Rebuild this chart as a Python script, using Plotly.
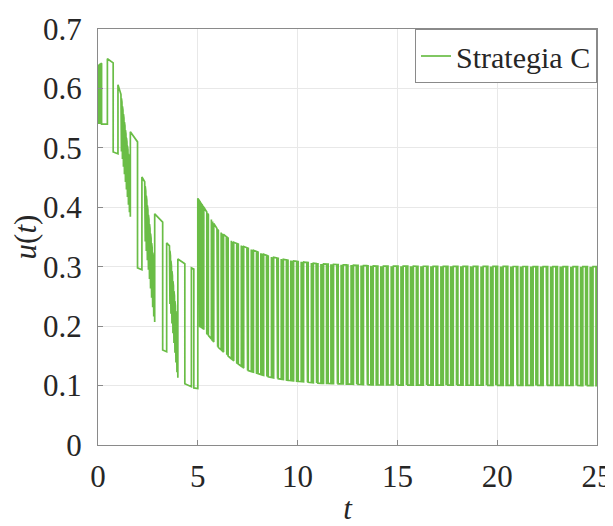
import numpy as np
import plotly.graph_objects as go

# ---- data ----
# envelope levels (upper = value while signal is "high", lower = value while "low")
env_t = [0.00, 0.47, 0.76, 1.00, 1.15, 1.60, 1.62, 1.98, 2.20, 2.34, 2.82, 2.84, 3.24, 3.44,
         3.58, 3.98, 4.00, 4.35, 4.68, 4.80, 4.9995, 5.00, 5.30, 6.00, 6.75, 7.45, 8.60,
         9.50, 11.0, 14.0, 25.0]
env_hi = [0.638, 0.650, 0.643, 0.606, 0.590, 0.470, 0.527, 0.510, 0.451, 0.443, 0.300, 0.389,
          0.375, 0.340, 0.335, 0.200, 0.313, 0.305, 0.298, 0.296, 0.295, 0.415, 0.400, 0.362,
          0.342, 0.332, 0.317, 0.311, 0.305, 0.301, 0.300]
env_lo = [0.540, 0.540, 0.493, 0.490, 0.500, 0.385, 0.384, 0.298, 0.295, 0.350, 0.208, 0.207,
          0.160, 0.157, 0.245, 0.114, 0.113, 0.103, 0.098, 0.096, 0.095, 0.200, 0.194, 0.165,
          0.143, 0.126, 0.114, 0.109, 0.104, 0.101, 0.100]

# switching cycles: rise time, high-hold length, chattering length, low-hold length
cyc_rise = [0.00, 0.47, 1.00, 1.62, 2.20, 2.84, 3.44, 4.00, 4.68, 5.00,
            5.30, 5.80, 6.29, 6.80, 7.30, 7.79, 8.30, 8.80, 9.29, 9.80, 10.30, 10.79,
            11.30, 11.80, 12.29, 12.80, 13.30, 13.79, 14.30, 14.80, 15.29, 15.80, 16.30,
            16.79, 17.30, 17.80, 18.29, 18.80, 19.30, 19.79, 20.30, 20.80, 21.29, 21.80,
            22.30, 22.79, 23.30, 23.80, 24.29, 24.80]
hold_hi = [0.00, 0.29, 0.15, 0.36, 0.14, 0.40, 0.14, 0.35, 0.12, 0.01,
           0.15, 0.16, 0.14, 0.15, 0.16, 0.15, 0.14, 0.16, 0.15, 0.15, 0.16, 0.14,
           0.15, 0.16, 0.15, 0.14, 0.16, 0.15, 0.15, 0.16, 0.14, 0.15, 0.16,
           0.15, 0.14, 0.16, 0.15, 0.15, 0.16, 0.14, 0.15, 0.16, 0.15, 0.14,
           0.16, 0.15, 0.15, 0.16, 0.14, 0.15]
chat = [0.18, 0.00, 0.45, 0.00, 0.48, 0.00, 0.40, 0.00, 0.00, 0.27,
        0.08, 0.07, 0.09, 0.08, 0.07, 0.08, 0.09, 0.07, 0.08, 0.08, 0.07, 0.09,
        0.08, 0.07, 0.08, 0.09, 0.07, 0.08, 0.08, 0.07, 0.09, 0.08, 0.07,
        0.08, 0.09, 0.07, 0.08, 0.08, 0.07, 0.09, 0.08, 0.07, 0.08, 0.09,
        0.07, 0.08, 0.08, 0.07, 0.09, 0.08]
hold_lo = [0.29, 0.24, 0.02, 0.22, 0.02, 0.20, 0.02, 0.33, 0.20, 0.02,
           0.15, 0.14, 0.16, 0.15, 0.15, 0.14, 0.16, 0.15, 0.14, 0.15, 0.16, 0.15,
           0.14, 0.15, 0.16, 0.15, 0.14, 0.15, 0.16, 0.15, 0.14, 0.15, 0.15,
           0.16, 0.14, 0.15, 0.15, 0.16, 0.14, 0.15, 0.15, 0.14, 0.16, 0.15,
           0.15, 0.14, 0.16, 0.15, 0.14, 0.15]

x_ticks = [0, 5, 10, 15, 20, 25]
y_ticks = [0, 0.1, 0.2, 0.3, 0.4, 0.5, 0.6, 0.7]
y_tick_text = ["0", "0.1", "0.2", "0.3", "0.4", "0.5", "0.6", "0.7"]
series_name = "Strategia C"
T_END = 25.0
CHATTER_STEP = 0.025

# ---- build the switching signal ----
def hi(t):
    return float(np.interp(t, env_t, env_hi))

def lo(t):
    return float(np.interp(t, env_t, env_lo))

toggles = []
n = len(cyc_rise)
for k in range(n):
    r = cyc_rise[k]
    nxt = cyc_rise[k + 1] if k + 1 < n else T_END + 0.2
    if k > 0:
        toggles.append(r)
    f = r + hold_hi[k]
    lstart = f + chat[k]
    m = int(round((lstart - f) / CHATTER_STEP))
    nt = 2 * (m // 2) + 1
    toggles.extend(np.linspace(f, lstart, nt).tolist() if nt > 1 else [f])
    le = lstart + hold_lo[k]
    if nxt - CHATTER_STEP > le + 1e-9:
        m2 = int(round((nxt - CHATTER_STEP - le) / CHATTER_STEP)) + 1
        nt2 = max(2, 2 * (m2 // 2))
        toggles.extend(np.linspace(le, nxt - CHATTER_STEP, nt2).tolist())

xs = [0.0]
ys = [hi(0.0)]
state = True
eps = 1e-3
for t in toggles:
    if t > T_END:
        break
    before = hi(t - eps) if state else lo(t - eps)
    state = not state
    after = hi(t) if state else lo(t)
    xs += [t, t]
    ys += [before, after]
xs.append(T_END)
ys.append(hi(T_END) if state else lo(T_END))

GREEN = "#6abd46"
INK = "#262626"
FONT = "Times New Roman"

fig = go.Figure()
fig.add_trace(go.Scatter(x=xs, y=ys, mode="lines", name=series_name,
                         line=dict(color=GREEN, width=1.7), showlegend=True))

axis_common = dict(showgrid=True, gridcolor="#e8e8e8", gridwidth=1, showline=True,
                   linecolor="#8a8a8a", linewidth=1, mirror=True, ticks="inside",
                   ticklen=5, tickcolor="#8a8a8a", zeroline=False, automargin=False,
                   tickfont=dict(family=FONT, size=31, color=INK))

fig.update_layout(
    width=605, height=518,
    margin=dict(l=90, r=16, t=21, b=81),
    paper_bgcolor="white", plot_bgcolor="white",
    xaxis=dict(range=[0, 25], tickvals=x_ticks, ticklabelstandoff=4,
               title=dict(text="<i>t</i>", font=dict(family=FONT, size=31, color=INK), standoff=6),
               **axis_common),
    yaxis=dict(range=[0, 0.7], tickvals=y_ticks, ticktext=y_tick_text, ticklabelstandoff=9,
               title=dict(text="<i>u</i>(<i>t</i>)", font=dict(family=FONT, size=31, color=INK), standoff=8),
               **axis_common),
    legend=dict(x=1, y=1, xanchor="right", yanchor="top", bgcolor="white",
                bordercolor="#8a8a8a", borderwidth=1,
                font=dict(family=FONT, size=30, color=INK),
                itemwidth=30, tracegroupgap=0),
    showlegend=True,
)

fig.write_html("out.html")
